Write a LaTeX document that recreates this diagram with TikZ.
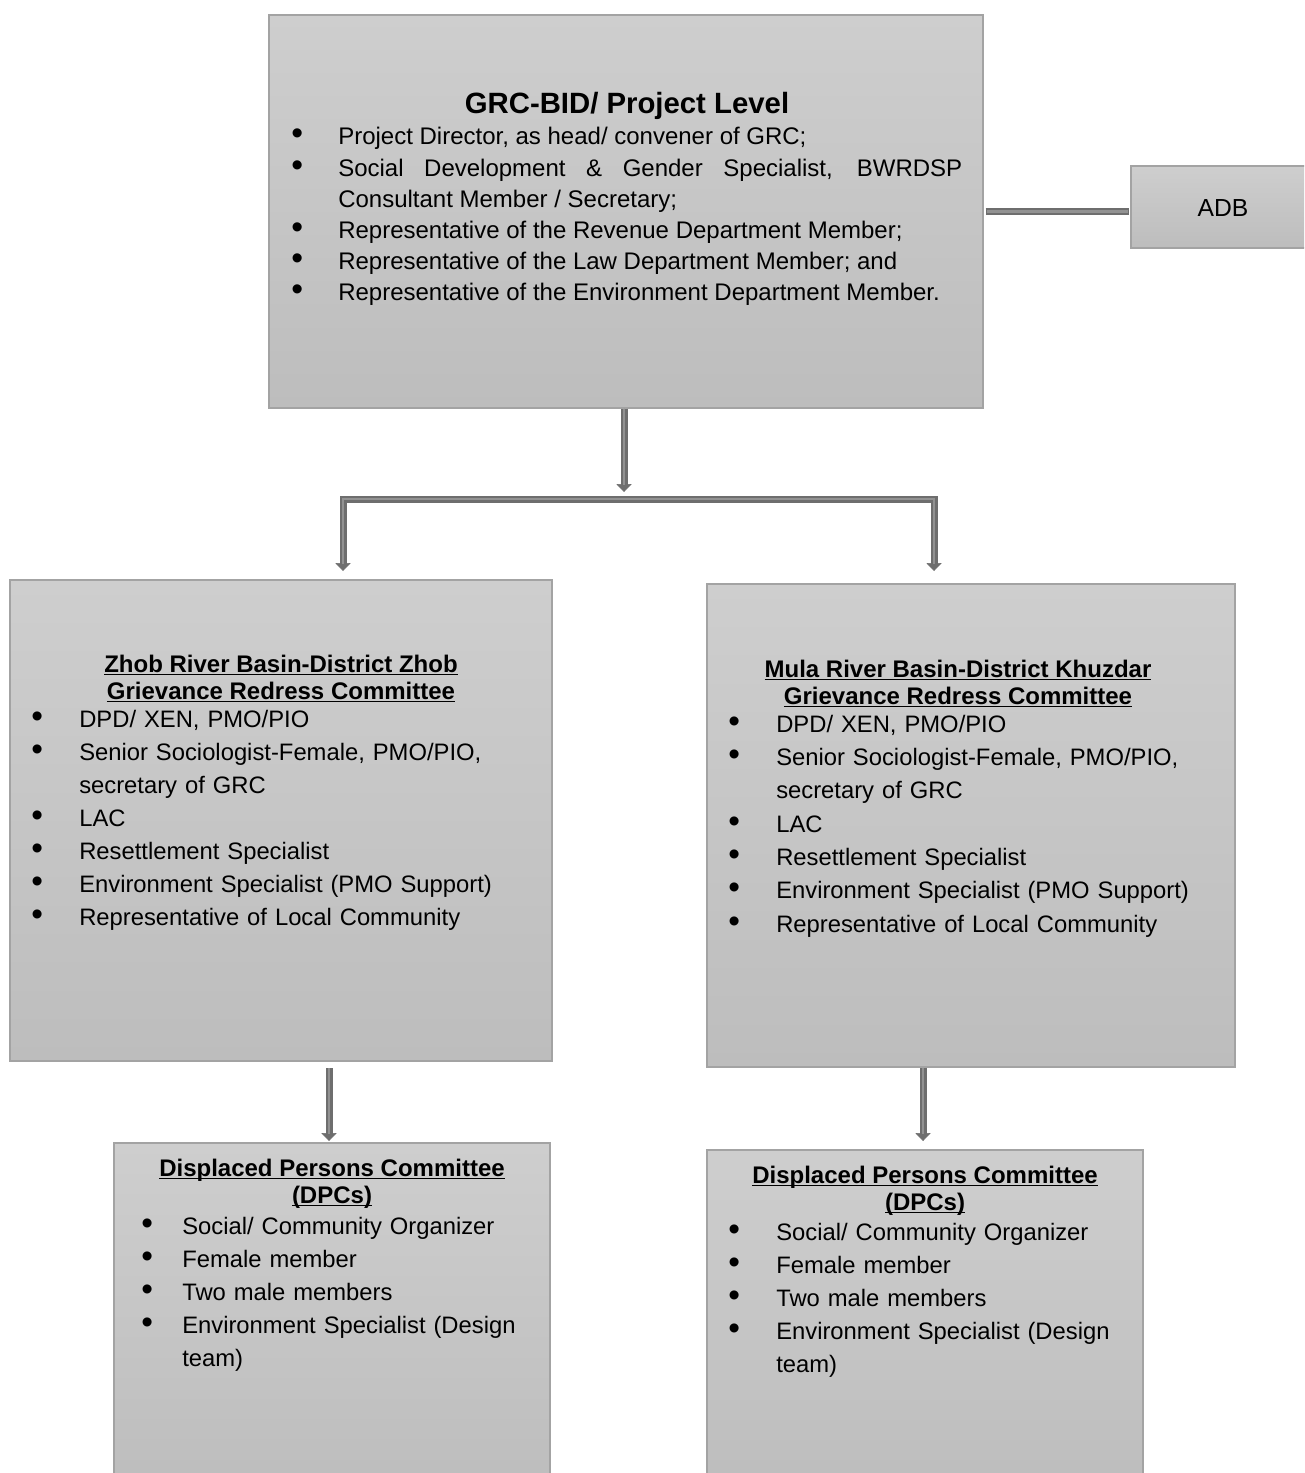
\documentclass[tikz,border=0pt]{standalone}
\usepackage{fontspec}
\usepackage{graphicx}
\setmainfont{Liberation Sans}
\usetikzlibrary{fit,arrows.meta}
\definecolor{boxtop}{RGB}{206,206,206}
\definecolor{boxbot}{RGB}{189,189,189}
\definecolor{boxline}{RGB}{163,163,163}
\definecolor{pipedark}{RGB}{110,110,110}
\definecolor{pipelight}{RGB}{146,146,146}
\newcommand\uln[1]{\setbox0\hbox{#1}\rlap{\rule[-2.6pt]{\wd0}{1.2pt}}\box0}
\newcommand\itmf[1]{\hangindent=#1\hangafter=1\makebox[#1][l]{\scalebox{1.4}{\textbullet}}\ignorespaces}
\newcommand\itm[1]{\par\itmf{#1}}
\begin{document}
\begin{tikzpicture}[x=0.75pt,y=-0.75pt,
  box/.style={draw=boxline, line width=1.1pt, top color=boxtop, bottom color=boxbot, inner sep=0pt, rectangle},
  lst/.style={anchor=base west, inner sep=0pt, align=left, font={\fontsize{17.85pt}{24.75pt}\selectfont}},
  ttl/.style={anchor=base, inner sep=0pt, align=center, font={\bfseries\fontsize{18pt}{20.25pt}\selectfont}},
  tipst/.style={draw=pipedark, line width=0.5pt},
  tipa/.style={-{Triangle[length=6pt,width=11.5pt]}},
  tipb/.style={{Triangle[length=6pt,width=11.5pt]}-{Triangle[length=6pt,width=11.5pt]}},
  pipeo/.style={draw=pipedark, line width=5.25pt},
  pipei/.style={draw=pipelight, line width=2pt}]
\useasboundingbox (0,0) rectangle (1304,1473);
\clip (0,0) rectangle (1304,1473);

% boxes
\node[box, fit={(269,15) (983,408)}] (top) {};
\node[box, fit={(1131,166) (1320,248)}] (adb) {};
\node[box, fit={(10,580) (552,1061)}] (zhob) {};
\node[box, fit={(707,584) (1235,1067)}] (mula) {};
\node[box, fit={(114,1143) (550,1490)}] (dpl) {};
\node[box, fit={(707,1150) (1143,1490)}] (dpr) {};

% top box text
\node[ttl, font={\bfseries\fontsize{22pt}{26pt}\selectfont}] (topt) at (627,114) {GRC-BID/ Project Level};
\node[lst, align=justify, text width=503.25pt, font={\fontsize{18pt}{23.3pt}\selectfont}] (topl) at (291,145) {\tolerance=9999\hyphenpenalty=10000\exhyphenpenalty=10000%
\itmf{35.25pt}Project Director, as head/ convener of GRC;
\itm{35.25pt}Social Development \& Gender Specialist, BWRDSP Consultant Member / Secretary;
\itm{35.25pt}Representative of the Revenue Department Member;
\itm{35.25pt}Representative of the Law Department Member; and
\itm{35.25pt}Representative of the Environment Department Member.\par};

\node[font={\fontsize{18.5pt}{22pt}\selectfont}, inner sep=0pt] (adbt) at (1223,208) {ADB};

% left committee
\node[ttl] (zhobt) at (281,699) {\uln{Zhob River Basin-District Zhob}\\\uln{Grievance Redress Committee}};
\node[lst, text width=372pt] (zhobl) at (31,727) {%
\itmf{36pt}DPD/ XEN, PMO/PIO
\itm{36pt}Senior Sociologist-Female, PMO/PIO, secretary of GRC
\itm{36pt}LAC
\itm{36pt}Resettlement Specialist
\itm{36pt}Environment Specialist (PMO Support)
\itm{36pt}Representative of Local Community\par};

% right committee
\node[ttl] (mulat) at (958,704) {\uln{Mula River Basin-District Khuzdar}\\\uln{Grievance Redress Committee}};
\node[lst, text width=363pt, font={\fontsize{17.85pt}{25pt}\selectfont}] (mulal) at (728,732) {%
\itmf{36pt}DPD/ XEN, PMO/PIO
\itm{36pt}Senior Sociologist-Female, PMO/PIO, secretary of GRC
\itm{36pt}LAC
\itm{36pt}Resettlement Specialist
\itm{36pt}Environment Specialist (PMO Support)
\itm{36pt}Representative of Local Community\par};

% bottom left
\node[ttl] (dplt) at (332,1203) {\uln{Displaced Persons Committee}\\\uln{(DPCs)}};
\node[lst, text width=299.25pt] (dpll) at (141,1234) {%
\itmf{30.75pt}Social/ Community Organizer
\itm{30.75pt}Female member
\itm{30.75pt}Two male members
\itm{30.75pt}Environment Specialist (Design team)\par};

% bottom right
\node[ttl] (dprt) at (925,1210) {\uln{Displaced Persons Committee}\\\uln{(DPCs)}};
\node[lst, text width=301.5pt] (dprl) at (728,1240) {%
\itmf{36pt}Social/ Community Organizer
\itm{36pt}Female member
\itm{36pt}Two male members
\itm{36pt}Environment Specialist (Design team)\par};

% connector coordinates
\coordinate (j) at (624,492);
\coordinate (bl) at (343,499);
\coordinate (br) at (934,499);
\coordinate (tl) at (343,571);
\coordinate (tr) at (934,571);
\coordinate (la1) at (329,1068);
\coordinate (la2) at (329,1141);
\coordinate (ra1) at (923,1068);
\coordinate (ra2) at (923,1141);

% ADB link
\draw[pipeo, shorten <=1.5pt, shorten >=1pt] (top.east) -- (top.east -| adb.west);
\draw[pipei, shorten <=2.5pt, shorten >=2pt] (top.east) -- (top.east -| adb.west);

% top arrow
\draw[tipst, tipa] (top.south -| j) -- (j);
\draw[pipeo, shorten >=5pt] (top.south -| j) -- (j);
\draw[pipei, shorten >=5pt] (top.south -| j) -- (j);

% split bar
\draw[tipst, tipb] (tl) -- (bl) -- (br) -- (tr);
\draw[pipeo, shorten <=5pt, shorten >=5pt] (tl) -- (bl) -- (br) -- (tr);
\draw[pipei, shorten <=5pt, shorten >=5pt] (tl) -- (bl) -- (br) -- (tr);

% lower arrows
\draw[tipst, tipa] (la1) -- (la2);
\draw[pipeo, shorten >=5pt] (la1) -- (la2);
\draw[pipei, shorten >=5pt] (la1) -- (la2);
\draw[tipst, tipa] (ra1) -- (ra2);
\draw[pipeo, shorten >=5pt] (ra1) -- (ra2);
\draw[pipei, shorten >=5pt] (ra1) -- (ra2);
\end{tikzpicture}
\end{document}
